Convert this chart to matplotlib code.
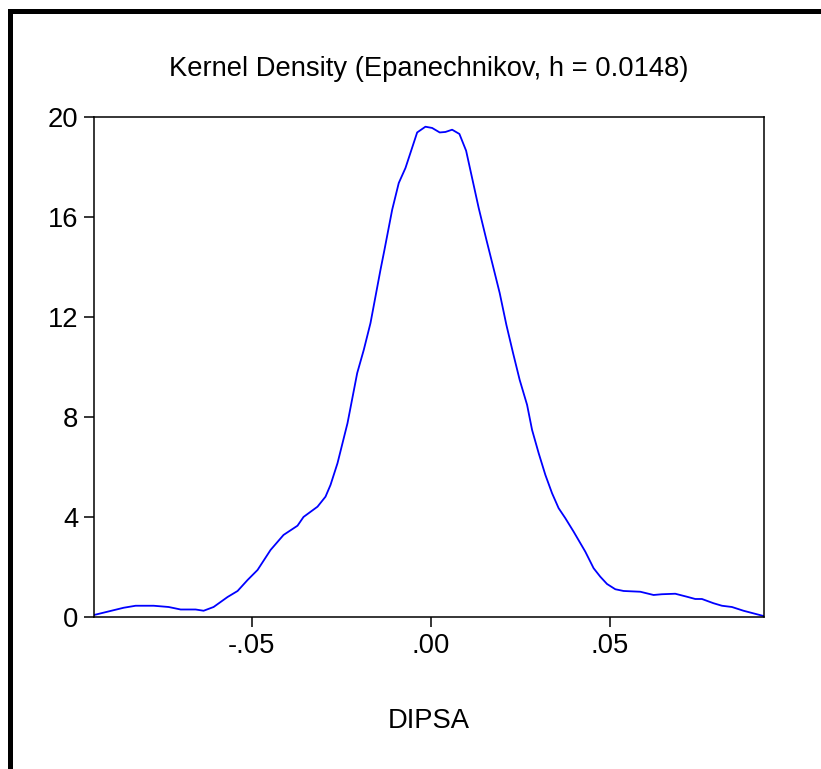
import matplotlib
matplotlib.use('Agg')
from matplotlib import pyplot as plt
from matplotlib.patches import Rectangle

# kernel density estimate of DIPSA
dipsa = [-0.09395, -0.08567, -0.08233, -0.07731, -0.07313, -0.06978, -0.06560,
         -0.06337, -0.06058, -0.05668, -0.05389, -0.05110, -0.04832, -0.04469,
         -0.04107, -0.03717, -0.03549, -0.03159, -0.02936, -0.02796, -0.02601,
         -0.02322, -0.02052, -0.01868, -0.01681, -0.01542, -0.01402, -0.01291,
         -0.01076, -0.00892, -0.00705, -0.00379, -0.00148, 0.00039, 0.00251,
         0.00410, 0.00597, 0.00800, 0.00987, 0.01154, 0.01338, 0.01553,
         0.01740, 0.01924, 0.02110, 0.02297, 0.02481, 0.02688, 0.02827,
         0.03011, 0.03198, 0.03384, 0.03568, 0.03755, 0.03987, 0.04313,
         0.04544, 0.04731, 0.04918, 0.05149, 0.05381, 0.05846, 0.06217,
         0.06451, 0.06822, 0.07148, 0.07380, 0.07566, 0.07890, 0.08124,
         0.08403, 0.08726, 0.09284]
density = [0.08, 0.37, 0.45, 0.45, 0.40, 0.30, 0.30,
           0.25, 0.40, 0.80, 1.04, 1.48, 1.88, 2.68,
           3.28, 3.65, 4.00, 4.41, 4.81, 5.28, 6.15,
           7.75, 9.75, 10.68, 11.75, 12.81, 13.88, 14.68,
           16.28, 17.35, 17.95, 19.37, 19.60, 19.55, 19.37,
           19.39, 19.48, 19.31, 18.64, 17.55, 16.35, 15.08,
           14.01, 12.95, 11.68, 10.55, 9.48, 8.48, 7.48,
           6.55, 5.68, 4.95, 4.35, 3.95, 3.41, 2.61,
           1.95, 1.61, 1.32, 1.11, 1.04, 1.01, 0.88,
           0.91, 0.93, 0.81, 0.72, 0.72, 0.55, 0.45,
           0.40, 0.25, 0.04]
x_ticks = [-0.05, 0.0, 0.05]
x_tick_labels = ['-.05', '.00', '.05']
y_ticks = [0, 4, 8, 12, 16, 20]

plt.rcParams['font.family'] = ['Liberation Sans', 'DejaVu Sans']
W, H = 821, 769
fs = 19.7
fig = plt.figure(figsize=(W / 100, H / 100), dpi=100)
fig.patch.set_facecolor('white')

ax = fig.add_axes([94 / W, 1 - 617 / H, 669.5 / W, 500.3 / H])
ax.plot(dipsa, density, color='#0000ff', lw=1.3)
ax.set_xlim(dipsa[0], dipsa[-1])
ax.set_ylim(0, 20)
ax.set_xticks(x_ticks)
ax.set_xticklabels(x_tick_labels)
ax.set_yticks(y_ticks)
for s in ax.spines.values():
    s.set_linewidth(1.1)
    s.set_color('black')
ax.tick_params(direction='out', length=7.5, width=1.1, labelsize=fs, pad=4)
ax.set_xlabel('DIPSA', fontsize=fs, labelpad=35)

# title
fig.text(428.8 / W, 1 - 76 / H, 'Kernel Density (Epanechnikov, h = 0.0148)',
         ha='center', va='baseline', fontsize=fs)

# black frame around the figure (left and top)
fig.add_artist(Rectangle((8 / W, 0), 4.5 / W, 1 - 9 / H,
                         transform=fig.transFigure, color='black', lw=0))
fig.add_artist(Rectangle((8 / W, 1 - 14 / H), 1 - 8 / W, 5 / H,
                         transform=fig.transFigure, color='black', lw=0))

fig.savefig('out.png', dpi=100)
